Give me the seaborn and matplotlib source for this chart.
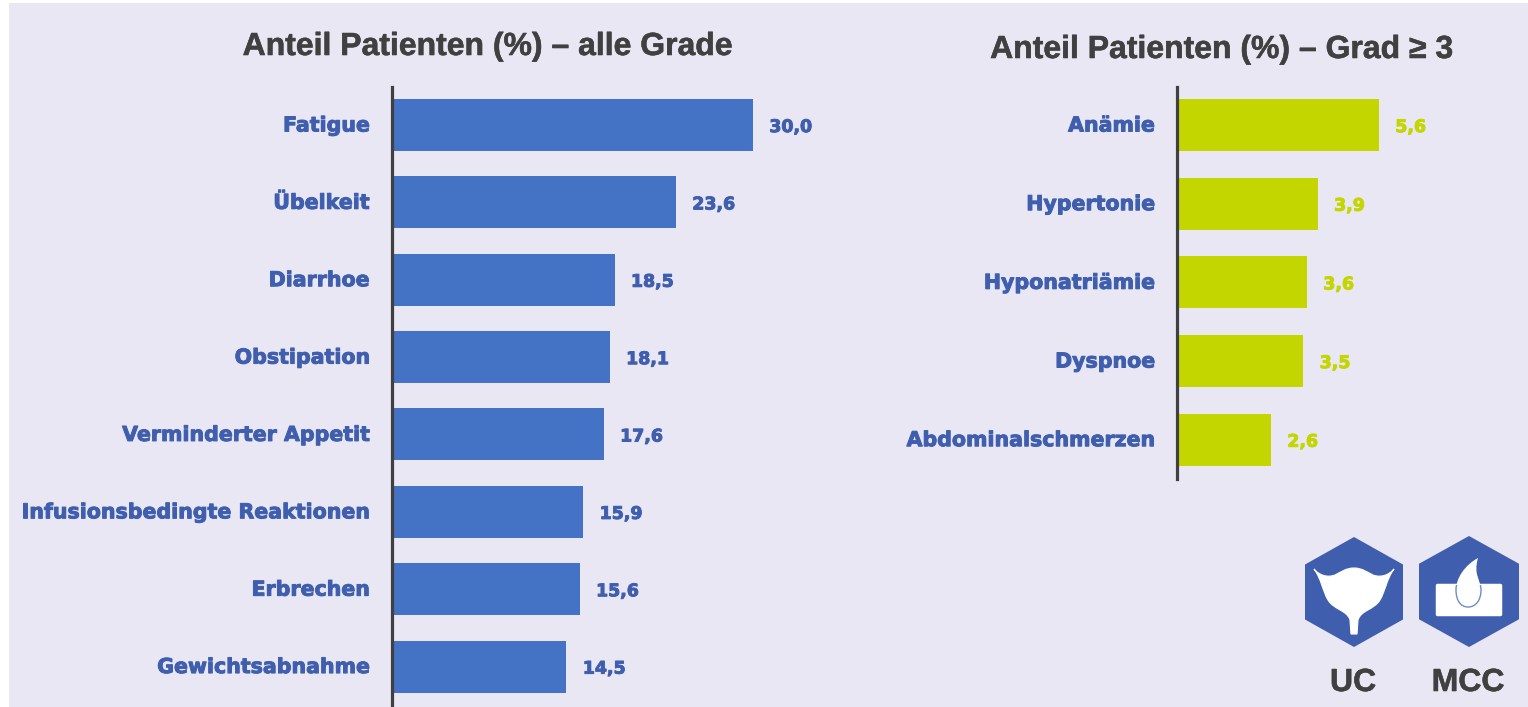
import matplotlib
matplotlib.use('Agg')
import matplotlib.pyplot as plt
import matplotlib.patheffects as pe
from matplotlib.patches import Polygon, Rectangle, PathPatch
from matplotlib.path import Path
from matplotlib.transforms import ScaledTranslation
import pandas as pd
import seaborn as sns

# data
all_grades_labels = ['Fatigue', 'Übelkeit', 'Diarrhoe', 'Obstipation', 'Verminderter Appetit',
                     'Infusionsbedingte Reaktionen', 'Erbrechen', 'Gewichtsabnahme']
all_grades_values = [30.0, 23.6, 18.5, 18.1, 17.6, 15.9, 15.6, 14.5]
grade3_labels = ['Anämie', 'Hypertonie', 'Hyponatriämie', 'Dyspnoe', 'Abdominalschmerzen']
grade3_values = [5.6, 3.9, 3.6, 3.5, 2.6]
title_all = 'Anteil Patienten (%) – alle Grade'
title_grade3 = 'Anteil Patienten (%) – Grad ≥ 3'
icon_labels = ['UC', 'MCC']

W, H = 1528, 707
BG = '#E9E7F4'
BLUE = '#4472C4'
TEXT_BLUE = '#3F5FAE'
LIME = '#C4D600'
DARK = '#404040'

sns.set_theme(style='white')
plt.rcParams['font.family'] = ['Liberation Sans', 'DejaVu Sans']


def px_axes(fig, x0, y0, x1, y1):
    return fig.add_axes([x0 / W, 1 - y1 / H, (x1 - x0) / W, (y1 - y0) / H])


def heavy(color, lw=0.7):
    return [pe.withStroke(linewidth=lw, foreground=color)]


def draw_panel(fig, labels, values, box, xmax, ylim, width, bar_color, value_color):
    ax = px_axes(fig, *box)
    df = pd.DataFrame({'label': labels, 'value': values})
    sns.barplot(data=df, y='label', x='value', orient='h', color=bar_color, saturation=1,
                width=width, linewidth=0, ax=ax)
    ax.set_xlim(0, xmax)
    ax.set_ylim(*ylim)
    ax.set_xlabel('')
    ax.set_ylabel('')
    ax.set_xticks([])
    ax.patch.set_alpha(0)
    sns.despine(ax=ax, bottom=True)
    ax.spines['left'].set_color(DARK)
    ax.spines['left'].set_linewidth(2.3)
    ax.tick_params(axis='y', length=0, pad=16)
    # the tick labels sit a little above the bar centres
    lift = ScaledTranslation(0, 1.5 / 100, fig.dpi_scale_trans)
    for tick in ax.get_yticklabels():
        tick.set_fontfamily('DejaVu Sans')
        tick.set_fontsize(14.8)
        tick.set_fontweight('bold')
        tick.set_color(TEXT_BLUE)
        tick.set_path_effects(heavy(TEXT_BLUE))
        tick.set_transform(tick.get_transform() + lift)
    texts = ax.bar_label(ax.containers[0], labels=[f'{v:.1f}'.replace('.', ',') for v in values],
                         padding=11.5, fontsize=12.5, fontweight='bold', color=value_color,
                         fontfamily='DejaVu Sans')
    for t in texts:
        t.set_path_effects(heavy(value_color))
        t.xyann = (11.8, -1.5)
    return ax


def mirrored_bladder(cx):
    # right half as cubic segments, then the same outline back on the left
    right = [(8, 568), (13, 572), (19, 575), (27, 578), (35, 575), (40, 569),
             (33, 578), (31, 592), (26, 600), (20, 610), (7, 610), (4, 620)]
    verts = [(cx, 568)] + [(cx + dx, y) for dx, y in right]
    codes = [Path.MOVETO] + [Path.CURVE4] * len(right)
    verts += [(cx + 3, 634), (cx - 3, 634), (cx - 4, 620)]
    codes += [Path.LINETO] * 3
    back = right[:-1][::-1] + [(0, 568)]
    verts += [(cx - dx, y) for dx, y in back]
    codes += [Path.CURVE4] * len(back)
    return Path(verts, codes)


fig = plt.figure(figsize=(W / 100, H / 100), dpi=100, facecolor='white')

# overlay in pixel coordinates for the background and the icons
bg = px_axes(fig, 0, 0, W, H)
bg.set_xlim(0, W)
bg.set_ylim(H, 0)
bg.axis('off')
bg.add_patch(Rectangle((9, 3), W - 9, H - 3, facecolor=BG, edgecolor='none'))

draw_panel(fig, all_grades_labels, all_grades_values, (392, 87, 392 + 12.03 * 32, 705), 32,
           (7.497, -0.491), 0.672, BLUE, TEXT_BLUE)
draw_panel(fig, grade3_labels, grade3_values, (1177.3, 87, 1177.3 + 36.0 * 8, 479), 8,
           (4.5, -0.483), 0.66, LIME, LIME)

t1 = fig.text(488 / W, 1 - 47 / H, title_all, ha='center', va='center', fontsize=23, fontweight='bold', color=DARK)
t2 = fig.text(1222 / W, 1 - 50 / H, title_grade3, ha='center', va='center', fontsize=23, fontweight='bold', color=DARK)
t1.set_path_effects(heavy(DARK, 0.4))
t2.set_path_effects(heavy(DARK, 0.4))

# hexagon icons
icons = [(1354, 592, 49, 55), (1469, 591.5, 50, 55.5)]
for (cx, cy, rx, ry), name in zip(icons, icon_labels):
    bg.add_patch(Polygon([(cx, cy - ry), (cx + rx, cy - ry / 2), (cx + rx, cy + ry / 2),
                          (cx, cy + ry), (cx - rx, cy + ry / 2), (cx - rx, cy - ry / 2)],
                         facecolor=TEXT_BLUE, edgecolor='none'))
    txt = bg.text(cx - 1, 683, name, ha='center', va='center', fontsize=23, fontweight='bold', color=DARK)
    txt.set_path_effects(heavy(DARK, 0.4))

bg.add_patch(PathPatch(mirrored_bladder(1354), facecolor='white', edgecolor='white', linewidth=0.8))

# skin block with a drop
block = Rectangle((1437, 585), 63, 29, facecolor='white', edgecolor='white', linewidth=2.5, joinstyle='round')
bg.add_patch(block)
drop = Path([(1478, 558), (1465, 565), (1456, 578), (1456, 590), (1456, 601), (1461, 607), (1468, 607),
             (1476, 607), (1481, 600), (1481, 590), (1481, 580), (1473, 575), (1478, 558)],
            [Path.MOVETO] + [Path.CURVE4] * 12)
bg.add_patch(PathPatch(drop, facecolor='white', edgecolor='none'))
outline = PathPatch(drop, facecolor='none', edgecolor='#6F8CC8', linewidth=1.0)
bg.add_patch(outline)
outline.set_clip_path(block)

fig.savefig('out.png', dpi=100)
